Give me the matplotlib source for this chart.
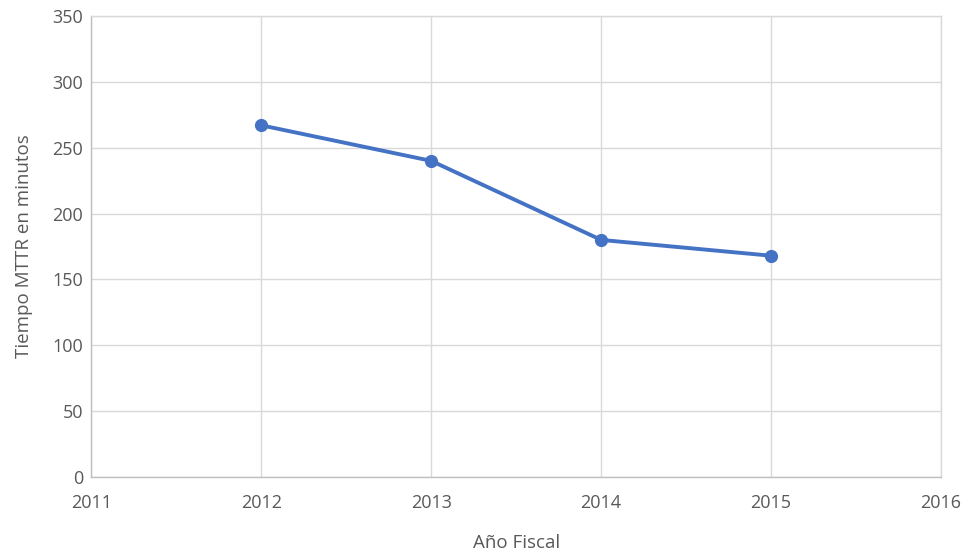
import matplotlib
matplotlib.use("Agg")
import matplotlib.pyplot as plt

years = [2012, 2013, 2014, 2015]
mttr = [267, 240, 180, 168]
x_ticks = [2011, 2012, 2013, 2014, 2015, 2016]
y_ticks = [0, 50, 100, 150, 200, 250, 300, 350]

plt.rcParams['font.family'] = ['Open Sans', 'DejaVu Sans']
text_color = '#595959'
grid_color = '#d9d9d9'

fig = plt.figure(figsize=(9.65, 5.52), dpi=100)
ax = fig.add_axes([0.0948, 0.1359, 0.8802, 0.8351])

ax.plot(years, mttr, color='#4472C4', linewidth=2.8, marker='o', markersize=8.5, zorder=3)

ax.set_xlim(2011, 2016)
ax.set_ylim(0, 350)
ax.set_xticks(x_ticks)
ax.set_yticks(y_ticks)
ax.grid(True, color=grid_color, linewidth=1)
ax.set_axisbelow(True)

for s in ax.spines.values():
    s.set_color(grid_color)
    s.set_linewidth(1)
ax.spines['left'].set_color('#bfbfbf')
ax.spines['bottom'].set_color('#bfbfbf')

ax.tick_params(axis='both', length=0, labelsize=13, colors=text_color)
ax.tick_params(axis='x', pad=12)
ax.tick_params(axis='y', pad=6)

ax.set_xlabel("Año Fiscal", fontsize=13.5, color=text_color, labelpad=16)
ax.set_ylabel("Tiempo MTTR en minutos", fontsize=13.5, color=text_color, labelpad=14)

fig.savefig("out.png", dpi=100)
